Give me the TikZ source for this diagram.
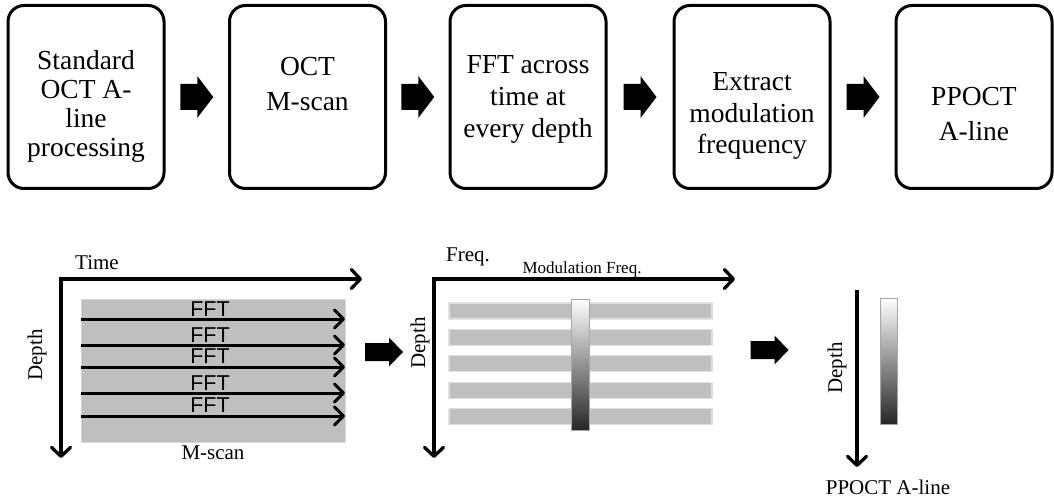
\documentclass[tikz,border=0pt]{standalone}
\usepackage{fontspec}
\setmainfont{Liberation Serif}
\setsansfont{Liberation Sans}
\usetikzlibrary{arrows.meta,calc}
\newcommand{\blockarrow}[5]{% center, length, body h, head h, head length
  \begin{scope}[shift={#1}]
    \fill (-#2/2,-#3/2) -- ({#2/2-#5},-#3/2) -- ({#2/2-#5},-#4/2) -- (#2/2,0)
      -- ({#2/2-#5},#4/2) -- ({#2/2-#5},#3/2) -- (-#2/2,#3/2) -- cycle;
  \end{scope}}
\begin{document}
\begin{tikzpicture}[x=1pt,y=-1pt,
  box/.style={draw,line width=3pt,rounded corners=16pt,minimum width=156pt,minimum height=183pt,inner sep=0pt},
  boxtext/.style={align=center,inner sep=0pt},
  axisarr/.style={line width=3.3pt,{Straight Barb[length=9pt,width=19pt,round]}-{Straight Barb[length=9pt,width=19pt,round]}},
  downarr/.style={line width=3.3pt,-{Straight Barb[length=9pt,width=19pt,round]}},
  fftline/.style={line width=3pt,-{Straight Barb[length=9pt,width=18pt,round]}},
  lab/.style={font=\fontsize{21}{24}\selectfont,inner sep=0pt},
  fftlab/.style={font=\sffamily\fontsize{21.5}{23}\selectfont,inner sep=0pt},
  bar/.style={draw=white!88!black,line width=1.2pt,fill=black!25,minimum width=263pt,minimum height=16pt,inner sep=0pt},
  gradbar/.style={draw=black!35,line width=0.6pt,shading=axis,top color=white,middle color=black!28,bottom color=black!85,inner sep=0pt}
]
\useasboundingbox (0,0) rectangle (1054,497);

% ---- top flow ----
\node[box] (b1) at (86,97) {};
\node[box] (b2) at (307.5,97) {};
\node[box] (b3) at (528,97) {};
\node[box] (b4) at (752,97) {};
\node[box] (b5) at (974,97) {};

\node[boxtext,font=\fontsize{27.5}{29}\selectfont] (t1) at (86,106) {Standard\\OCT A-\\line\\processing};
\node[boxtext,font=\fontsize{27.5}{35}\selectfont] (t2) at (307.5,84) {OCT\\M-scan};
\node[boxtext,font=\fontsize{27.5}{32}\selectfont] (t3) at (528,99) {FFT across\\time at\\every depth};
\node[boxtext,font=\fontsize{27.5}{31.5}\selectfont] (t4) at (752,116) {Extract\\modulation\\frequency};
\node[boxtext,font=\fontsize{27.5}{35}\selectfont] (t5) at (974,114) {PPOCT\\A-line};

\blockarrow{($(b1.east)!0.5!(b2.west)$)}{33}{26}{42}{16}
\blockarrow{($(b2.east)!0.5!(b3.west)$)}{33}{26}{42}{16}
\blockarrow{($(b3.east)!0.5!(b4.west)$)}{33}{26}{42}{16}
\blockarrow{($(b4.east)!0.5!(b5.west)$)}{33}{26}{42}{16}

% ---- panel 1: M-scan ----
\coordinate (o1) at (61,279);
\coordinate (x1) at (362,279);
\coordinate (y1) at (61,458);
\node[draw=white!85!black,line width=1pt,fill=black!25,minimum width=264pt,minimum height=143pt,inner sep=0pt] (ms) at (213,370.5) {};
\draw[axisarr] (y1) |- (x1);
\node[lab] (time) at (97,263) {Time};
\node[lab,rotate=90] (dep1) at (37,355) {Depth};
\node[lab] (mscanlab) at (213,453) {M-scan};
\foreach \i/\ly/\ty in {1/319/309,2/345/335.5,3/367/356.5,4/393/383,5/416/405}{
  \coordinate (fa\i) at (81,\ly);
  \coordinate (fb\i) at (345,\ly);
  \draw[fftline] (fa\i) -- (fb\i);
  \node[fftlab] (fft\i) at (210,\ty) {FFT};
}

\blockarrow{(384,352)}{38}{18}{29}{14}

% ---- panel 2: spectrum ----
\coordinate (o2) at (434,279);
\coordinate (x2) at (735,279);
\coordinate (y2) at (434,458);
\draw[axisarr] (y2) |- (x2);
\node[lab] (freq) at (468,257) {Freq.};
\node[inner sep=0pt,font=\fontsize{17}{18}\selectfont] (modf) at (582,269) {Modulation Freq.};
\node[lab,rotate=90] (dep2) at (420,343) {Depth};
\foreach \i/\cy in {1/311,2/337.4,3/363.8,4/390.2,5/416.6}{
  \node[bar] (bar\i) at (580.5,\cy) {};
}
\node[gradbar,minimum width=18pt,minimum height=131pt] (g2) at (580,364.5) {};

\blockarrow{(769.5,350)}{38}{18}{29}{14}

% ---- panel 3: PPOCT A-line ----
\coordinate (d3a) at (857,290);
\coordinate (d3b) at (857,467);
\draw[downarr] (d3a) -- (d3b);
\node[lab,rotate=90] (dep3) at (837,368) {Depth};
\node[gradbar,minimum width=17pt,minimum height=126pt] (g3) at (888.5,361) {};
\node[lab] (pplab) at (888,487) {PPOCT A-line};
\end{tikzpicture}
\end{document}
